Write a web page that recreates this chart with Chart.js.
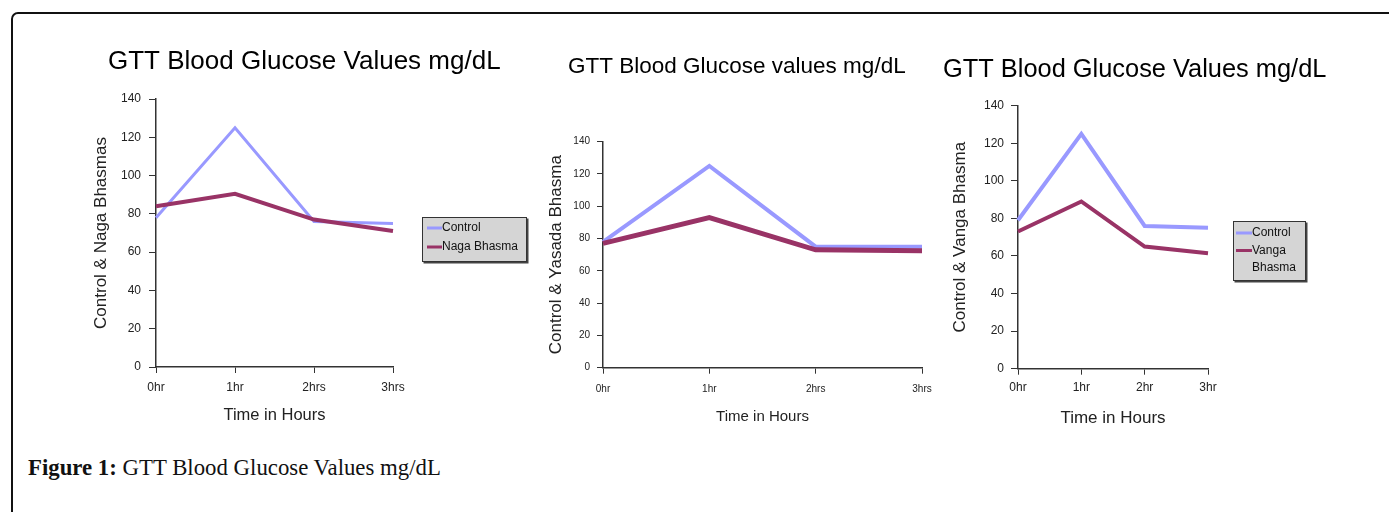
<!DOCTYPE html>
<html>
<head>
<meta charset="utf-8">
<script src="https://cdn.jsdelivr.net/npm/chart.js@4.4.1/dist/chart.umd.min.js"></script>
<style>
  body { margin: 0; width: 1389px; height: 512px; overflow: hidden; background: #fff; position: relative; }
  #frame { position: absolute; left: 11px; top: 12px; width: 1420px; height: 560px; border: 2px solid #111; border-radius: 7px; box-sizing: border-box; }
  canvas { position: absolute; }
  #caption { position: absolute; left: 28px; top: 455px; font-family: 'Liberation Serif', 'Times New Roman', serif; font-size: 22.8px; color: #111; white-space: nowrap; }
</style>
</head>
<body>
<div id="frame"></div>
<canvas id="c1" width="480" height="420" style="left:60px;top:20px"></canvas>
<canvas id="c2" width="405" height="420" style="left:540px;top:20px"></canvas>
<canvas id="c3" width="459" height="420" style="left:930px;top:20px"></canvas>
<div id="caption"><b>Figure 1:</b> GTT Blood Glucose Values mg/dL</div>

<script>
// Datos (mg/dL)
const horas1 = ['0hr', '1hr', '2hrs', '3hrs']
const horas2 = ['0hr', '1hr', '2hrs', '3hrs']
const horas3 = ['0hr', '1hr', '2hr', '3hr']

const control1 = [78, 125, 76, 75]
const naga = [84, 90.5, 77, 71]

const control2 = [78, 125, 75, 75]
const yasada = [77, 93, 73, 72.5]

const control3 = [79, 125, 76, 75]
const vanga = [73, 89, 65, 61.5]

const yMin = 0
const yMax = 140
const yStep = 20

const colorControl = '#9999ff'
const colorBhasma = '#993366'
const fuente = "'Liberation Sans', Arial, sans-serif"

// Dibuja la leyenda gris dentro de su caja de layout
function dibujarLeyenda(chart, box) {
    const opts = chart.options.plugins.boxLegend
    if (!opts.display) return
    const ctx = chart.ctx
    const left = box.left + opts.offsetX
    const top = opts.top
    ctx.save()
    ctx.fillStyle = '#444'
    ctx.fillRect(left + 1.5, top + 1.5, opts.width, opts.height)
    ctx.fillStyle = '#d5d5d5'
    ctx.fillRect(left, top, opts.width, opts.height)
    ctx.strokeStyle = '#333'
    ctx.lineWidth = 1
    ctx.strokeRect(left + 0.5, top + 0.5, opts.width - 1, opts.height - 1)
    ctx.font = opts.fontSize + 'px ' + fuente
    ctx.textBaseline = 'middle'
    ctx.fillStyle = '#111'
    let y = top + opts.firstRow
    const maxW = opts.width - opts.textX - 2
    chart.data.datasets.forEach(ds => {
        ctx.strokeStyle = ds.borderColor
        ctx.lineWidth = 3
        ctx.beginPath()
        ctx.moveTo(left + opts.swatchX, y)
        ctx.lineTo(left + opts.textX, y)
        ctx.stroke()
        // partir el texto si no cabe
        let lineas = []
        let actual = ''
        ds.label.split(' ').forEach(p => {
            const prueba = actual ? actual + ' ' + p : p
            if (actual && ctx.measureText(prueba).width > maxW) {
                lineas.push(actual)
                actual = p
            } else {
                actual = prueba
            }
        })
        lineas.push(actual)
        lineas.forEach(l => {
            ctx.fillText(l, left + opts.textX, y)
            y += opts.rowH
        })
    })
    ctx.restore()
}

// Plugin: reserva espacio a la derecha del área del gráfico para la leyenda
const boxLegend = {
    id: 'boxLegend',
    beforeInit(chart) {
        const box = {
            position: 'right',
            weight: 1000,
            fullSize: false,
            options: {},
            update(maxW, maxH) {
                const o = chart.options.plugins.boxLegend
                this.width = o.boxWidth || 0
                this.height = maxH
            },
            isHorizontal() { return false },
            draw() { dibujarLeyenda(chart, this) }
        }
        Chart.layouts.addBox(chart, box)
    }
}

function crearGrafica(id, g, labels, control, bhasma, nombre, titulo, yTitulo) {
    const ctx = document.getElementById(id)
    const config = {
        type: 'line',
        data: {
            labels: labels,
            datasets: [{
                label: 'Control',
                data: control,
                borderColor: colorControl,
                backgroundColor: colorControl,
                borderWidth: g.wControl,
                pointRadius: 0,
                tension: 0,
                order: 1
            },
            {
                label: nombre,
                data: bhasma,
                borderColor: colorBhasma,
                backgroundColor: colorBhasma,
                borderWidth: g.wBhasma,
                pointRadius: 0,
                tension: 0,
                order: 0
            }]
        },
        options: {
            responsive: false,
            animation: false,
            devicePixelRatio: 1,
            layout: { padding: { left: g.pl, right: g.pr, top: 0, bottom: 0 } },
            plugins: {
                legend: { display: false },
                tooltip: { enabled: false },
                title: {
                    display: true,
                    text: titulo,
                    align: 'start',
                    color: '#000',
                    font: { family: fuente, size: g.titleSize, weight: 'normal' },
                    padding: { top: g.titleTop, bottom: g.titleBottom }
                },
                boxLegend: g.legend
            },
            scales: {
                x: {
                    afterFit: s => { s.height = g.xh },
                    grid: { drawOnChartArea: false, color: '#333', tickLength: g.xTickLen, lineWidth: 1 },
                    border: { display: true, color: '#333', width: 1.5 },
                    ticks: { color: '#222', padding: g.xTickPad, font: { family: fuente, size: g.xTickSize }, maxRotation: 0 },
                    title: {
                        display: true,
                        text: 'Time in Hours',
                        color: '#222',
                        font: { family: fuente, size: g.xTitleSize },
                        padding: { top: 0, bottom: g.xTitlePad }
                    }
                },
                y: {
                    min: yMin,
                    max: yMax,
                    afterFit: s => { s.width = g.yw },
                    grid: { drawOnChartArea: false, color: '#333', tickLength: g.yTickLen, lineWidth: 1 },
                    border: { display: true, color: '#333', width: 1.5 },
                    ticks: { stepSize: yStep, color: '#222', padding: g.yTickPad, font: { family: fuente, size: g.yTickSize } },
                    title: {
                        display: true,
                        text: yTitulo,
                        color: '#222',
                        font: { family: fuente, size: g.yTitleSize },
                        padding: { top: g.yTitlePad, bottom: 0 }
                    }
                }
            }
        },
        plugins: [boxLegend]
    }
    return new Chart(ctx, config)
}

const chart1 = crearGrafica('c1', {
    pl: 48, pr: 0, yw: 48, xh: 73,
    titleSize: 26, titleTop: 26.4, titleBottom: 21.4,
    yTitleSize: 17, yTitlePad: -17.2, yTickSize: 12, yTickLen: 7, yTickPad: 8,
    xTitleSize: 16.5, xTitlePad: 15, xTickSize: 12, xTickLen: 6, xTickPad: 7,
    wControl: 3, wBhasma: 4,
    legend: { display: true, boxWidth: 147, offsetX: 29, top: 197, width: 105, height: 45, fontSize: 12, firstRow: 11, rowH: 19, swatchX: 5, textX: 20 }
}, horas1, control1, naga, 'Naga Bhasma', 'GTT Blood Glucose Values mg/dL', 'Control & Naga Bhasmas')

const chart2 = crearGrafica('c2', {
    pl: 28, pr: 23, yw: 35, xh: 72.3,
    titleSize: 22.5, titleTop: 33.5, titleBottom: 61.2,
    yTitleSize: 17, yTitlePad: -21.5, yTickSize: 10, yTickLen: 6, yTickPad: 7,
    xTitleSize: 15, xTitlePad: 14.3, xTickSize: 10, xTickLen: 6, xTickPad: 10,
    wControl: 4, wBhasma: 5,
    legend: { display: false, boxWidth: 0 }
}, horas2, control2, yasada, 'Yasada Bhasma', 'GTT Blood Glucose values mg/dL', 'Control & Yasada Bhasma')

const chart3 = crearGrafica('c3', {
    pl: 13, pr: 0, yw: 75, xh: 71.3,
    titleSize: 25.4, titleTop: 34.75, titleBottom: 20.45,
    yTitleSize: 17, yTitlePad: 7.5, yTickSize: 12, yTickLen: 7, yTickPad: 7,
    xTitleSize: 17, xTitlePad: 11.8, xTickSize: 12, xTickLen: 6, xTickPad: 6,
    wControl: 4, wBhasma: 4,
    legend: { display: true, boxWidth: 181, offsetX: 25, top: 201, width: 73, height: 60, fontSize: 12, firstRow: 12, rowH: 17.5, swatchX: 3, textX: 19 }
}, horas3, control3, vanga, 'Vanga Bhasma', 'GTT Blood Glucose Values mg/dL', 'Control & Vanga Bhasma')
</script>
</body>
</html>
